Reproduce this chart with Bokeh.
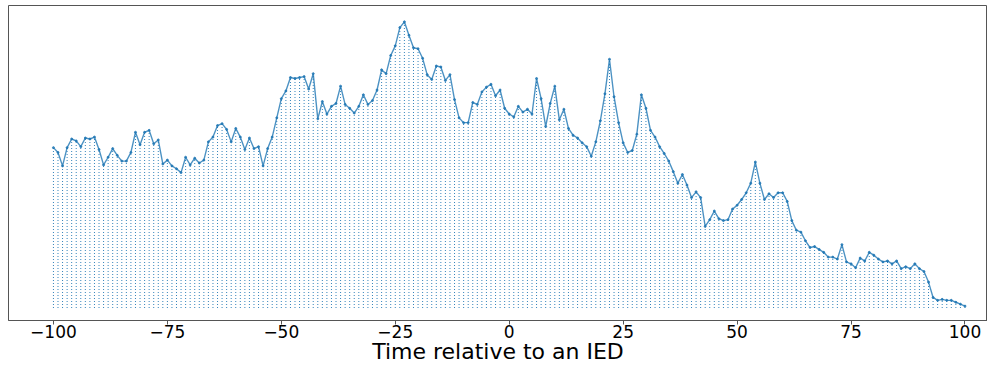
from bokeh.plotting import figure
from bokeh.models import Range1d, FixedTicker
from bokeh.embed import file_html
from bokeh.resources import INLINE

times = list(range(-100, 101))
counts = [
    167, 162, 148, 167, 176, 174, 168, 177, 176, 178,   # -100..-91
    165, 149, 157, 166, 159, 153, 153, 162, 183, 170,   # -90..-81
    183, 185, 171, 175, 150, 154, 148, 145, 141, 157,   # -80..-71
    149, 156, 151, 154, 173, 178, 190, 192, 186, 173,   # -70..-61
    187, 178, 165, 177, 166, 168, 148, 166, 178, 198,   # -60..-51
    218, 226, 240, 239, 240, 241, 228, 244, 197, 215,   # -50..-41
    202, 210, 213, 231, 212, 208, 203, 210, 222, 212,   # -40..-31
    216, 227, 248, 244, 263, 273, 292, 298, 284, 271,   # -30..-21
    270, 260, 243, 238, 252, 251, 237, 243, 217, 198,   # -20..-11
    193, 193, 214, 212, 225, 230, 233, 221, 227, 208,   # -10..-1
    202, 199, 210, 204, 207, 202, 239, 218, 189, 213,   # 0..9
    231, 196, 207, 187, 180, 177, 172, 168, 158, 173,   # 10..19
    195, 223, 259, 220, 193, 172, 162, 164, 181, 222,   # 20..29
    208, 185, 178, 168, 161, 153, 142, 130, 139, 128,   # 30..39
    115, 121, 115, 85, 92, 101, 93, 91, 92, 103,        # 40..49
    107, 113, 120, 130, 152, 130, 113, 119, 115, 120,   # 50..59
    120, 111, 91, 81, 79, 70, 63, 64, 61, 58,           # 60..69
    53, 53, 51, 66, 48, 46, 42, 52, 49, 58,             # 70..79
    55, 51, 48, 49, 46, 49, 41, 43, 41, 46,             # 80..89
    41, 38, 27, 11, 8, 9, 8, 8, 6, 4,                   # 90..99
    2,                                                  # 100
]
tick_values = [-100, -75, -50, -25, 0, 25, 50, 75, 100]
tick_labels = ["\u2212100", "\u221275", "\u221250", "\u221225", "0", "25", "50", "75", "100"]
x_label = "Time relative to an IED"

p = figure(width=987, height=366, output_backend="svg", toolbar_location=None,
           x_range=Range1d(-109.86, 104.94), y_range=Range1d(-13, 315),
           min_border_left=8, min_border_right=0, min_border_top=5,
           min_border_bottom=40)

p.segment(x0=times, y0=[0] * len(times), x1=times, y1=counts,
          line_color="#1f77b4", line_width=1, line_dash="1 2", line_alpha=0.9)
p.line(times, counts, line_color="#1f77b4", line_width=1.4, line_alpha=0.8)
p.scatter(times, counts, size=2, color="#1f77b4", alpha=0.8)

p.xgrid.visible = False
p.ygrid.visible = False
p.yaxis.visible = False
p.outline_line_color = "#555555"
p.outline_line_width = 1

ax = p.xaxis[0]
ax.ticker = FixedTicker(ticks=tick_values)
ax.major_label_overrides = {v: l for v, l in zip(tick_values, tick_labels)}
ax.minor_tick_line_color = None
ax.major_tick_in = 0
ax.major_tick_out = 4
ax.major_tick_line_color = "#555555"
ax.axis_line_color = "#555555"
ax.major_label_text_font = "DejaVu Sans"
ax.major_label_text_font_size = "17px"
ax.major_label_text_color = "black"
ax.major_label_standoff = 0
ax.axis_label = x_label
ax.axis_label_text_font = "DejaVu Sans"
ax.axis_label_text_font_size = "22px"
ax.axis_label_text_font_style = "normal"
ax.axis_label_text_color = "black"
ax.axis_label_standoff = -2

open("out.html", "w").write(file_html(p, INLINE))
